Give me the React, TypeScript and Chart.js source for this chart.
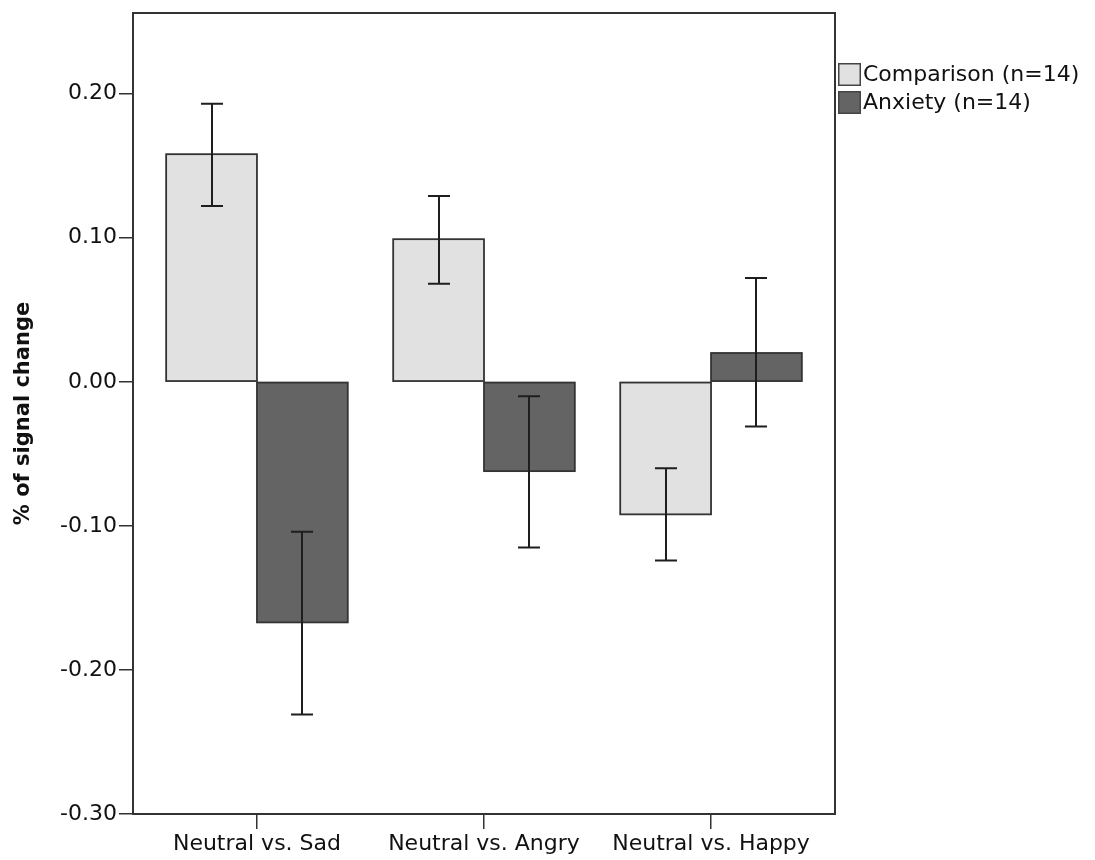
import React, { useEffect, useRef } from 'react';
import { Chart, registerables } from 'chart.js';

Chart.register(...registerables);

const categories = ['Neutral vs. Sad', 'Neutral vs. Angry', 'Neutral vs. Happy'];
const seriesNames = ['Comparison (n=14)', 'Anxiety (n=14)'];
const comparisonMeans = [0.158, 0.099, -0.092];
const comparisonLow = [0.122, 0.068, -0.124];
const comparisonHigh = [0.193, 0.129, -0.060];
const anxietyMeans = [-0.167, -0.062, 0.020];
const anxietyLow = [-0.231, -0.115, -0.031];
const anxietyHigh = [-0.104, -0.010, 0.072];
const yTickValues = [-0.3, -0.2, -0.1, 0, 0.1, 0.2];
const yTitle = '% of signal change';

const FONT = "'DejaVu Sans', sans-serif";
const LINE = '#333333';

const barOutlinePlugin = {
  id: 'barOutlines',
  afterDatasetsDraw(chart: any) {
    const ctx = chart.ctx;
    ctx.save();
    ctx.strokeStyle = LINE;
    ctx.lineWidth = 1.8;
    chart.data.datasets.forEach((_ds: any, di: number) => {
      const meta = chart.getDatasetMeta(di);
      meta.data.forEach((el: any) => {
        const left = el.x - el.width / 2;
        const top = Math.min(el.y, el.base);
        const h = Math.abs(el.base - el.y);
        ctx.strokeRect(left, top, el.width, h);
      });
    });
    ctx.restore();
  },
};

const errorBarPlugin = {
  id: 'errorBars',
  afterDatasetsDraw(chart: any) {
    const ctx = chart.ctx;
    const ys = chart.scales.y;
    chart.data.datasets.forEach((ds: any, di: number) => {
      const meta = chart.getDatasetMeta(di);
      meta.data.forEach((el: any, i: number) => {
        const x = Math.round(el.x);
        const yl = ys.getPixelForValue(ds.errLow[i]);
        const yh = ys.getPixelForValue(ds.errHigh[i]);
        ctx.save();
        ctx.strokeStyle = '#1e1e1e';
        ctx.lineWidth = 2;
        ctx.beginPath();
        ctx.moveTo(x, yl);
        ctx.lineTo(x, yh);
        ctx.moveTo(x - 11, yl);
        ctx.lineTo(x + 11, yl);
        ctx.moveTo(x - 11, yh);
        ctx.lineTo(x + 11, yh);
        ctx.stroke();
        ctx.restore();
      });
    });
  },
};

const framePlugin = {
  id: 'frame',
  afterDraw(chart: any) {
    const { ctx, chartArea } = chart;
    ctx.save();
    ctx.strokeStyle = LINE;
    ctx.lineWidth = 2;
    ctx.strokeRect(chartArea.left, chartArea.top, chartArea.right - chartArea.left, chartArea.bottom - chartArea.top);
    ctx.restore();
  },
};

const legendPlugin = {
  id: 'sideLegend',
  afterDraw(chart: any) {
    const { ctx, chartArea } = chart;
    const x0 = chartArea.right + 3;
    const y0 = 63;
    const box = 23;
    const gap = 28;
    ctx.save();
    chart.data.datasets.forEach((ds: any, i: number) => {
      const y = y0 + i * gap;
      ctx.fillStyle = ds.backgroundColor;
      ctx.fillRect(x0, y, box, box);
      ctx.strokeStyle = '#444444';
      ctx.lineWidth = 1.5;
      ctx.strokeRect(x0 + 0.75, y + 0.75, box - 1.5, box - 1.5);
      ctx.fillStyle = '#111111';
      ctx.font = `22px ${FONT}`;
      ctx.textBaseline = 'middle';
      ctx.textAlign = 'left';
      ctx.fillText(ds.label, x0 + box + 2, y + box / 2 + 1);
    });
    ctx.restore();
  },
};

export default function App() {
  const canvasRef = useRef<HTMLCanvasElement | null>(null);

  useEffect(() => {
    if (!canvasRef.current) return;
    const chart = new Chart(canvasRef.current, {
      type: 'bar',
      data: {
        datasets: [
          {
            label: seriesNames[0],
            data: categories.map((_, i) => ({ x: i, y: comparisonMeans[i] })),
            errLow: comparisonLow,
            errHigh: comparisonHigh,
            backgroundColor: '#e1e1e1',
            borderWidth: 0,
          } as any,
          {
            label: seriesNames[1],
            data: categories.map((_, i) => ({ x: i, y: anxietyMeans[i] })),
            errLow: anxietyLow,
            errHigh: anxietyHigh,
            backgroundColor: '#646464',
            borderWidth: 0,
          } as any,
        ],
      },
      options: {
        animation: false,
        responsive: true,
        maintainAspectRatio: false,
        layout: { padding: { top: 13, right: 260, left: 0, bottom: 0 } },
        datasets: { bar: { categoryPercentage: 0.8, barPercentage: 1 } },
        plugins: { legend: { display: false }, tooltip: { enabled: false } },
        scales: {
          x: {
            type: 'linear',
            min: -0.546,
            max: 2.546,
            offset: false,
            grid: { display: true, drawOnChartArea: false, drawTicks: true, tickLength: 15, color: LINE, lineWidth: 1.5, offset: false },
            border: { display: false },
            afterBuildTicks: (scale: any) => {
              scale.ticks = categories.map((_, i) => ({ value: i }));
            },
            afterFit: (scale: any) => {
              scale.height = 46;
            },
            ticks: {
              autoSkip: false,
              maxRotation: 0,
              padding: 2,
              color: '#111111',
              font: { family: FONT, size: 22 },
              callback: (v: any) => categories[Math.round(Number(v))] ?? '',
            },
          } as any,
          y: {
            type: 'linear',
            min: -0.3,
            max: 0.256,
            grid: { display: true, drawOnChartArea: false, drawTicks: true, tickLength: 14, color: LINE, lineWidth: 1.5 },
            border: { display: false },
            afterBuildTicks: (scale: any) => {
              scale.ticks = yTickValues.map((v) => ({ value: v }));
            },
            afterFit: (scale: any) => {
              scale.width = 133;
            },
            ticks: {
              padding: 2,
              color: '#111111',
              font: { family: FONT, size: 22, lineHeight: 1 },
              callback: (v: any) => Number(v).toFixed(2),
            },
            title: {
              display: true,
              text: yTitle,
              color: '#111111',
              font: { family: FONT, size: 21, weight: 'bold', lineHeight: 1.2 },
              padding: { top: 11, bottom: 0 },
            },
          } as any,
        },
      },
      plugins: [barOutlinePlugin, errorBarPlugin, framePlugin, legendPlugin],
    });
    return () => chart.destroy();
  }, []);

  return (
    <div style={{ position: 'fixed', left: 0, top: 0, width: 1095, height: 860, background: '#ffffff' }}>
      <canvas ref={canvasRef} />
    </div>
  );
}
